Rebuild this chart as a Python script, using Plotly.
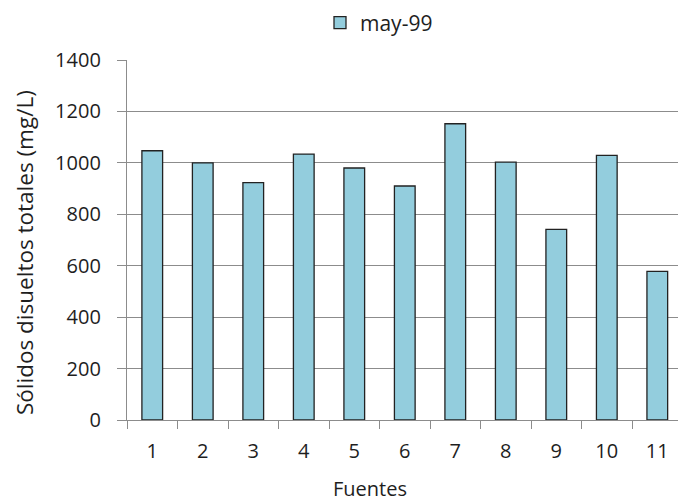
import plotly.graph_objects as go

# Total dissolved solids per source, May 1999
fuentes = ["1", "2", "3", "4", "5", "6", "7", "8", "9", "10", "11"]
solidos = [1047, 1000, 923, 1034, 980, 910, 1152, 1003, 741, 1029, 578]
serie = "may-99"
y_ticks = [0, 200, 400, 600, 800, 1000, 1200, 1400]

FONT = "Open Sans"
GRID = "#8c8c8c"
TEXT = "#1e1e1e"

fig = go.Figure()
fig.add_trace(go.Bar(
    x=fuentes,
    y=solidos,
    name=serie,
    width=0.41,
    marker=dict(color="#93CDDD", line=dict(color="#222222", width=1.3)),
    showlegend=True,
))

fig.update_layout(
    width=678,
    height=503,
    margin=dict(l=127, r=0, t=60, b=83),
    paper_bgcolor="white",
    plot_bgcolor="white",
    font=dict(family=FONT, size=20, color=TEXT),
    showlegend=True,
    legend=dict(
        orientation="h",
        x=(320 - 127) / 551, xanchor="left",
        y=(420 - 23) / 360, yanchor="middle",
        font=dict(family=FONT, size=21, color=TEXT),
        itemwidth=30,
    ),
)

fig.update_xaxes(
    type="category",
    range=[-0.5, 10.41],
    showgrid=False,
    showline=True,
    linecolor=GRID,
    linewidth=1.3,
    ticks="outside",
    tickson="boundaries",
    ticklen=8,
    tickcolor=GRID,
    tickwidth=1.3,
    ticklabelstandoff=13,
    tickfont=dict(family=FONT, size=20, color=TEXT),
)

fig.update_yaxes(
    range=[0, 1400],
    tickvals=y_ticks,
    showgrid=True,
    gridcolor=GRID,
    gridwidth=1.3,
    showline=True,
    linecolor=GRID,
    linewidth=1.3,
    ticks="outside",
    ticklen=9,
    tickcolor=GRID,
    tickwidth=1.3,
    ticklabelstandoff=12,
    zeroline=False,
    tickfont=dict(family=FONT, size=20, color=TEXT),
)

# Axis titles placed as annotations
fig.add_annotation(
    text="Fuentes", xref="paper", yref="paper",
    x=(370 - 127) / 551, y=(420 - 504) / 360,
    xanchor="center", yanchor="bottom", showarrow=False,
    font=dict(family=FONT, size=20, color=TEXT),
)
fig.add_annotation(
    text="Sólidos disueltos totales (mg/L)", xref="paper", yref="paper",
    x=(24 - 127) / 551, y=(420 - 253) / 360,
    xanchor="center", yanchor="middle", showarrow=False, textangle=-90,
    font=dict(family=FONT, size=22.5, color=TEXT),
)

fig.write_html("out.html")
